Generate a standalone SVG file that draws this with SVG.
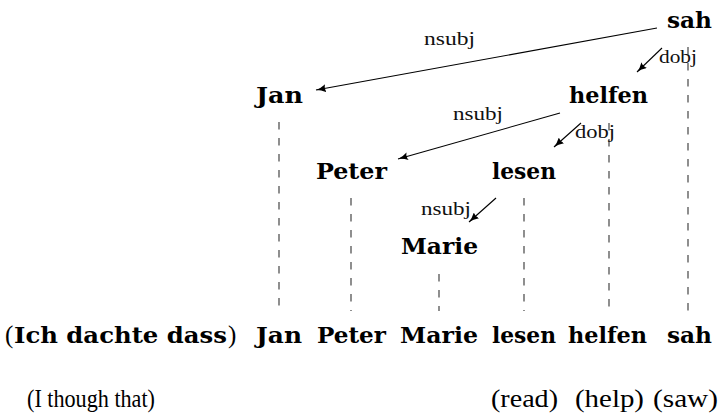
<svg xmlns="http://www.w3.org/2000/svg" width="719" height="419" viewBox="0 0 719 419">
  <style>
    .w { font-family: "DejaVu Serif", "Liberation Serif", serif; font-weight: bold; font-size: 22.5px; fill: #000; }
    .r { font-family: "Liberation Serif", "Times New Roman", serif; font-size: 25px; fill: #000; }
    .lbl { font-family: "Liberation Serif", "Times New Roman", serif; font-size: 19px; fill: #111; }
    .dep { stroke: #000; stroke-width: 1.1; fill: none; marker-end: url(#tip); }
    .proj { stroke: #333; stroke-width: 1.1; stroke-dasharray: 7.5 8.5; fill: none; }
  </style>
  <defs>
    <marker id="tip" markerUnits="userSpaceOnUse" markerWidth="10" markerHeight="8" viewBox="0 0 10 8" refX="10" refY="4" orient="auto">
      <path d="M0,0 Q5,3.2 10,4 Q5,4.8 0,8 Q2,4 0,0 z" fill="#000"/>
    </marker>
  </defs>
  <rect width="719" height="419" fill="#fff"/>

  <!-- projection lines from each head word down to the sentence -->
  <g id="projections">
    <line class="proj" x1="279" y1="122" x2="279" y2="307"/>
    <line class="proj" x1="351" y1="198" x2="351" y2="311"/>
    <line class="proj" x1="439" y1="274" x2="439" y2="311"/>
    <line class="proj" x1="524" y1="198" x2="524" y2="311"/>
    <line class="proj" x1="609" y1="123" x2="609" y2="307"/>
    <line class="proj" x1="688" y1="47" x2="688" y2="311"/>
  </g>

  <!-- dependency arcs -->
  <g id="connectors">
    <line class="dep" x1="657" y1="28" x2="316" y2="90"/>
    <text class="lbl" x="424" y="45" textLength="51" lengthAdjust="spacingAndGlyphs">nsubj</text>
    <line class="dep" x1="662" y1="48" x2="637" y2="72"/>
    <text class="lbl" x="659" y="63" textLength="38" lengthAdjust="spacingAndGlyphs">dobj</text>
    <line class="dep" x1="560" y1="113" x2="398" y2="159"/>
    <text class="lbl" x="453" y="120" textLength="50" lengthAdjust="spacingAndGlyphs">nsubj</text>
    <line class="dep" x1="581" y1="123" x2="554" y2="147"/>
    <text class="lbl" x="575" y="138" textLength="40" lengthAdjust="spacingAndGlyphs">dobj</text>
    <line class="dep" x1="496" y1="198" x2="469" y2="222"/>
    <text class="lbl" x="421" y="215" textLength="50" lengthAdjust="spacingAndGlyphs">nsubj</text>
  </g>

  <!-- tree nodes -->
  <g id="node-sah"><text class="w" x="667" y="28" textLength="45" lengthAdjust="spacingAndGlyphs">sah</text></g>
  <g id="node-jan"><text class="w" x="256" y="103" textLength="47" lengthAdjust="spacingAndGlyphs">Jan</text></g>
  <g id="node-helfen"><text class="w" x="569" y="103" textLength="79" lengthAdjust="spacingAndGlyphs">helfen</text></g>
  <g id="node-peter"><text class="w" x="316" y="179" textLength="71" lengthAdjust="spacingAndGlyphs">Peter</text></g>
  <g id="node-lesen"><text class="w" x="492" y="179" textLength="64" lengthAdjust="spacingAndGlyphs">lesen</text></g>
  <g id="node-marie"><text class="w" x="401" y="254" textLength="77" lengthAdjust="spacingAndGlyphs">Marie</text></g>

  <!-- sentence -->
  <g id="sentence">
    <text class="r" x="5" y="343">(</text>
    <text class="w" x="14" y="343" textLength="213" lengthAdjust="spacingAndGlyphs">Ich dachte dass</text>
    <text class="r" x="228" y="343">)</text>
    <text class="w" x="256" y="343" textLength="46" lengthAdjust="spacingAndGlyphs">Jan</text>
    <text class="w" x="317" y="343" textLength="69" lengthAdjust="spacingAndGlyphs">Peter</text>
    <text class="w" x="400" y="343" textLength="78" lengthAdjust="spacingAndGlyphs">Marie</text>
    <text class="w" x="492" y="343" textLength="64" lengthAdjust="spacingAndGlyphs">lesen</text>
    <text class="w" x="568" y="343" textLength="79" lengthAdjust="spacingAndGlyphs">helfen</text>
    <text class="w" x="667" y="343" textLength="45" lengthAdjust="spacingAndGlyphs">sah</text>
  </g>

  <!-- glosses -->
  <g id="glosses">
    <text class="r" x="27" y="407" textLength="128" lengthAdjust="spacingAndGlyphs">(I though that)</text>
    <text class="r" x="491" y="407" textLength="67" lengthAdjust="spacingAndGlyphs">(read)</text>
    <text class="r" x="575" y="407" textLength="69" lengthAdjust="spacingAndGlyphs">(help)</text>
    <text class="r" x="653" y="407" textLength="65" lengthAdjust="spacingAndGlyphs">(saw)</text>
  </g>
</svg>
